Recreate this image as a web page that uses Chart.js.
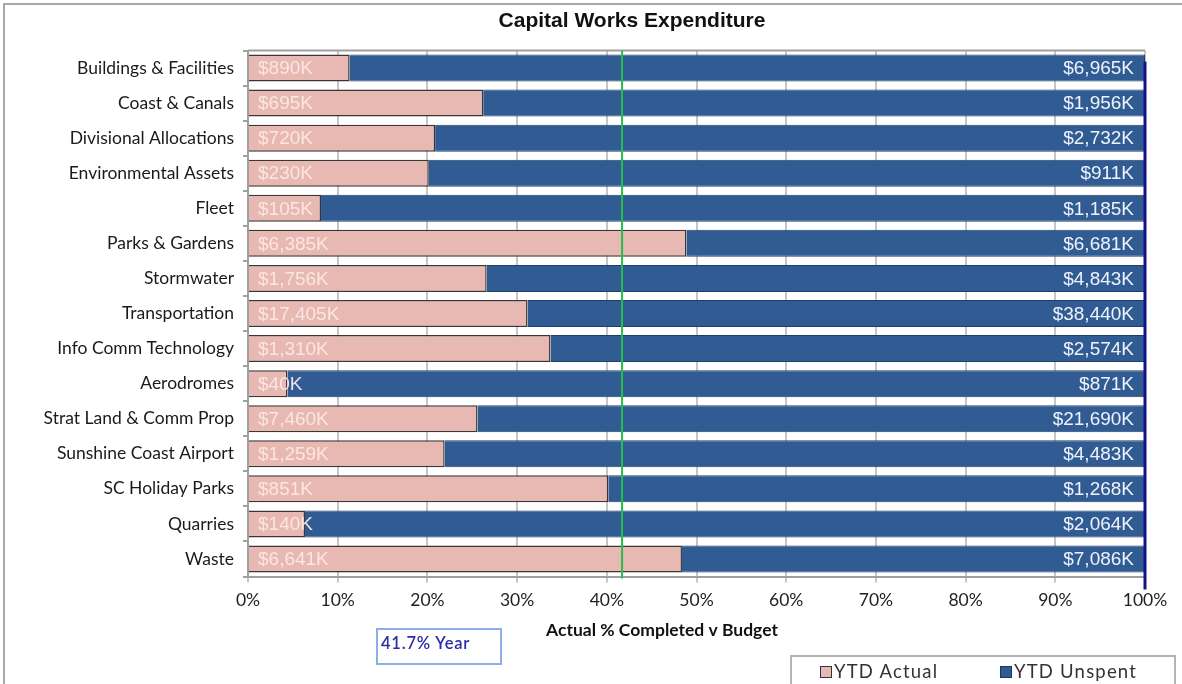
<!DOCTYPE html>
<html>
<head>
<meta charset="utf-8">
<script src="https://cdn.jsdelivr.net/npm/chart.js@4.4.0/dist/chart.umd.min.js"></script>
<style>
  html, body { margin: 0; padding: 0; background: #fff; }
  #wrap { position: relative; width: 1182px; height: 684px; overflow: hidden; }
  #frame { position: absolute; left: 3px; top: 3px; width: 1200px; height: 700px; border-left: 2px solid #a8a8a8; border-top: 2px solid #a8a8a8; box-sizing: border-box; pointer-events: none; }
  canvas { position: absolute; left: 0; top: 0; }
  #yearbox { position: absolute; left: 376px; top: 628px; width: 126px; height: 37px; border: 2px solid #8eaee8; box-sizing: border-box; font: 600 16.5px Lato, "Liberation Sans", sans-serif; color: #2b2ba6; padding: 3px 0 0 3px; white-space: nowrap; letter-spacing: 0.8px; }
  #legend { position: absolute; left: 790px; top: 655px; width: 386px; height: 40px; border: 2px solid #b4b4b4; box-sizing: border-box; font: 18.5px Lato, "Liberation Sans", sans-serif; color: #333; }
  .li { position: absolute; top: 3px; white-space: nowrap; letter-spacing: 1.2px; }
  .sw { display: inline-block; width: 10px; height: 10px; border: 1px solid #333; margin-right: 2px; vertical-align: 0px; }
</style>
</head>
<body>
<div id="wrap">
  <canvas id="c" width="1182" height="684"></canvas>
  <div id="frame"></div>
  <div id="yearbox">41.7% Year</div>
  <div id="legend">
    <div class="li" style="left:28px"><span class="sw" style="background:#e8b8b2"></span>YTD Actual</div>
    <div class="li" style="left:208px"><span class="sw" style="background:#315c93;border-color:#1c3a63"></span>YTD Unspent</div>
  </div>
</div>
<script>
const categories = ["Buildings & Facilities","Coast & Canals","Divisional Allocations","Environmental Assets","Fleet","Parks & Gardens","Stormwater","Transportation","Info Comm Technology","Aerodromes","Strat Land & Comm Prop","Sunshine Coast Airport","SC Holiday Parks","Quarries","Waste"];
const ytdActual = [890, 695, 720, 230, 105, 6385, 1756, 17405, 1310, 40, 7460, 1259, 851, 140, 6641];
const ytdUnspent = [6965, 1956, 2732, 911, 1185, 6681, 4843, 38440, 2574, 871, 21690, 4483, 1268, 2064, 7086];
const xTickLabels = ["0%","10%","20%","30%","40%","50%","60%","70%","80%","90%","100%"];
const yearPct = 41.7;
const chartTitle = "Capital Works Expenditure";
const xAxisTitle = "Actual % Completed v Budget";

const actualPct = ytdActual.map((v, i) => v / (v + ytdUnspent[i]) * 100);
const unspentPct = ytdUnspent.map((v, i) => v / (v + ytdActual[i]) * 100);

function fmtK(v) { return "$" + v.toLocaleString("en-US") + "K"; }

const extras = {
  id: "extras",
  beforeDatasetsDraw(chart) {
    const ctx = chart.ctx, a = chart.chartArea;
    ctx.save();
    ctx.strokeStyle = "#a0a0a0"; ctx.lineWidth = 2;
    ctx.beginPath(); ctx.moveTo(a.left, a.top); ctx.lineTo(a.right, a.top); ctx.stroke();
    ctx.restore();
  },
  afterDatasetsDraw(chart) {
    const ctx = chart.ctx, a = chart.chartArea, xs = chart.scales.x;
    ctx.save();
    ctx.font = "19px 'Liberation Sans', Arial, sans-serif";
    ctx.textBaseline = "middle";
    const m0 = chart.getDatasetMeta(0), m1 = chart.getDatasetMeta(1);
    m0.data.forEach((bar, i) => {
      ctx.fillStyle = "rgba(252,232,230,0.95)";
      ctx.textAlign = "left";
      ctx.fillText(fmtK(ytdActual[i]), bar.base + 9, bar.y + 1);
    });
    m1.data.forEach((bar, i) => {
      ctx.fillStyle = "#eef3fb";
      ctx.textAlign = "right";
      ctx.fillText(fmtK(ytdUnspent[i]), bar.x - 11, bar.y + 1);
    });
    const gx = xs.getPixelForValue(yearPct);
    ctx.strokeStyle = "#22c04a"; ctx.lineWidth = 2;
    ctx.beginPath(); ctx.moveTo(gx, a.top); ctx.lineTo(gx, a.bottom + 2); ctx.stroke();
    const rx = xs.getPixelForValue(100);
    ctx.strokeStyle = "#141484"; ctx.lineWidth = 3;
    ctx.beginPath(); ctx.moveTo(rx, a.top + 11); ctx.lineTo(rx, a.bottom + 13); ctx.stroke();
    ctx.fillStyle = "#111";
    ctx.textAlign = "center";
    ctx.font = "bold 21px 'Liberation Sans', Arial, sans-serif";
    ctx.fillText(chartTitle, 632, 21);
    ctx.font = "bold 17.5px Lato, 'Liberation Sans', sans-serif";
    ctx.fillText(xAxisTitle, 662, 630);
    ctx.restore();
  }
};

new Chart(document.getElementById("c"), {
  type: "bar",
  data: {
    labels: categories,
    datasets: [
      { label: "YTD Actual", data: actualPct, backgroundColor: "#e8b8b2", borderColor: "#3e3434", borderWidth: 1.5, borderSkipped: "left", barPercentage: 0.77, categoryPercentage: 1 },
      { label: "YTD Unspent", data: unspentPct, backgroundColor: "#315c93", borderColor: "#203f68", borderWidth: 1, borderSkipped: "left", barPercentage: 0.77, categoryPercentage: 1 }
    ]
  },
  options: {
    indexAxis: "y",
    responsive: false,
    animation: false,
    layout: { padding: { top: 50.5, right: 37, bottom: 41.5, left: 0 } },
    plugins: {
      legend: { display: false },
      tooltip: { enabled: false },
      title: { display: false }
    },
    scales: {
      x: {
        stacked: true, min: 0, max: 100,
        afterFit(s) { s.height = 66; },
        ticks: { stepSize: 10, color: "#222", padding: 7, font: { family: "Lato, 'Liberation Sans', sans-serif", size: 17.5 }, callback: (v, i) => xTickLabels[i] },
        grid: { color: "#c6c6c6", lineWidth: 2, drawTicks: true, tickLength: 6 },
        border: { color: "#a0a0a0", width: 2 }
      },
      y: {
        stacked: true,
        afterFit(s) { s.width = 248; },
        ticks: { color: "#1a1a1a", padding: 9, font: { family: "Lato, 'Liberation Sans', sans-serif", size: 17.5 } },
        grid: { offset: true, drawOnChartArea: false, drawTicks: true, tickLength: 5, color: "#a0a0a0", lineWidth: 2 },
        border: { color: "#a0a0a0", width: 2 }
      }
    }
  },
  plugins: [extras]
});
</script>
</body>
</html>
